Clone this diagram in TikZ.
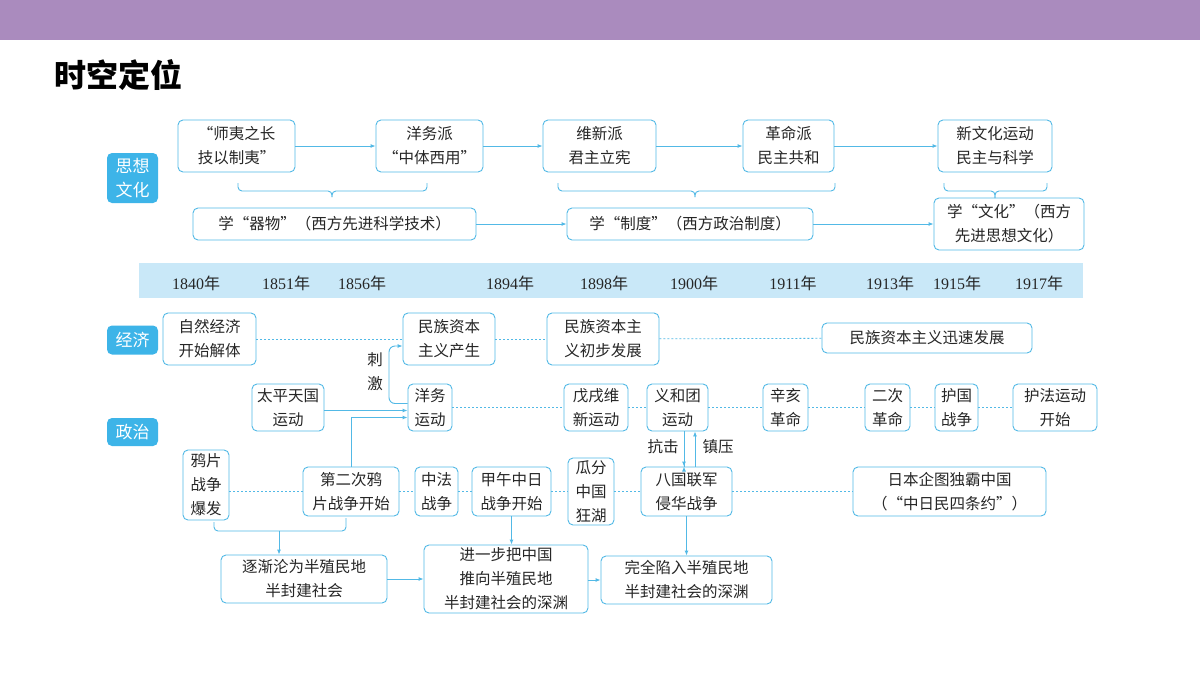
\documentclass[tikz,border=0pt]{standalone}
\usepackage{fontspec}
\setmainfont{Noto Sans CJK SC}
\newfontfamily\serifnum{Liberation Serif}
\usetikzlibrary{arrows.meta}
\definecolor{bord}{HTML}{52B9E6}
\definecolor{lab}{HTML}{3DB4E8}
\definecolor{band}{HTML}{C9E8F8}
\definecolor{hdr}{HTML}{AA8BBE}
\newcommand\yr[1]{{\serifnum #1}年}
\begin{document}
\begin{tikzpicture}[x=1pt,y=-1pt,
  box/.style={draw=bord,line width=0.9pt,rounded corners=5pt,inner sep=0pt,align=center,
    font=\fontsize{15.5}{24}\selectfont,text=black!85},
  tag/.style={fill=lab,rounded corners=5pt,text=white,align=center,inner sep=0pt,
    font=\fontsize{17}{24}\selectfont,minimum width=51pt},
  arr/.style={draw=bord,line width=0.9pt,-{Latex[length=5pt,width=4pt]}},
  dot/.style={draw=bord,line width=0.8pt,dash pattern=on 2pt off 2pt},
  ln/.style={draw=bord,line width=0.9pt},
  brc/.style={draw=bord,line width=0.9pt,rounded corners=4pt},
  yl/.style={font=\fontsize{16}{20}\selectfont,text=black!85,inner sep=0pt},
  sl/.style={font=\fontsize{15.5}{24}\selectfont,text=black!85,inner sep=0pt,align=center}]
\useasboundingbox (0,0) rectangle (1200,675);
\fill[white] (0,0) rectangle (1200,675);
\fill[hdr] (0,0) rectangle (1200,40);
\node[anchor=west,font=\fontsize{32}{36}\selectfont\bfseries,inner sep=0pt] (title) at (54,75) {时空定位};
% labels
\node[tag,minimum height=50pt] (t1) at (132.5,178) {思想\\文化};
\node[tag,minimum height=29pt] (t2) at (132.5,340) {经济};
\node[tag,minimum height=28pt] (t3) at (132.5,432) {政治};
% thought row
\node[box,minimum width=117pt,minimum height=52pt] (a1) at (236.5,146) {“师夷之长\\技以制夷”};
\node[box,minimum width=107pt,minimum height=52pt] (a2) at (429.5,146) {洋务派\\“中体西用”};
\node[box,minimum width=113pt,minimum height=52pt] (a3) at (599.5,146) {维新派\\君主立宪};
\node[box,minimum width=91pt,minimum height=52pt] (a4) at (788.5,146) {革命派\\民主共和};
\node[box,minimum width=114pt,minimum height=52pt] (a5) at (995,146) {新文化运动\\民主与科学};
\draw[arr] (a1) -- (a2); \draw[arr] (a2) -- (a3); \draw[arr] (a3) -- (a4); \draw[arr] (a4) -- (a5);
\node[box,minimum width=283pt,minimum height=32pt] (b1) at (334.5,224) {学“器物”（西方先进科学技术）};
\node[box,minimum width=246pt,minimum height=32pt] (b2) at (690,224) {学“制度”（西方政治制度）};
\node[box,minimum width=150pt,minimum height=52pt] (b3) at (1009,224) {学“文化”（西方\\先进思想文化）};
\draw[arr] (b1) -- (b2); \draw[arr] (b2) -- (b3);
% braces
\draw[brc] (238,183) |- (332,191) -- (332,197); \draw[brc] (427,183) |- (332,191) -- (332,197);
\draw[brc] (558,183) |- (695,191) -- (695,197); \draw[brc] (835,183) |- (695,191) -- (695,197);
\draw[brc] (944,183) |- (995,191) -- (995,198); \draw[brc] (1047,183) |- (995,191) -- (995,198);
% timeline
\fill[band] (139,263) rectangle (1083,298);
\foreach \x/\y in {196/1840,286/1851,362/1856,510/1894,604/1898,694/1900,793/1911,890/1913,957/1915,1039/1917}
  \node[yl] (y\y) at (\x,283) {\yr{\y}};
% economy
\node[box,minimum width=93pt,minimum height=52pt] (e1) at (209.5,339) {自然经济\\开始解体};
\node[box,minimum width=92pt,minimum height=52pt] (e2) at (449,339) {民族资本\\主义产生};
\node[box,minimum width=112pt,minimum height=52pt] (e3) at (603,339) {民族资本主\\义初步发展};
\node[box,minimum width=210pt,minimum height=30pt] (e4) at (927,338) {民族资本主义迅速发展};
\draw[dot] (e1) -- (e2); \draw[dot] (e2) -- (e3); \draw[dot] (e3) -- (e4);
% politics row 1
\node[box,minimum width=72pt,minimum height=47pt] (p1) at (288,407.5) {太平天国\\运动};
\node[box,minimum width=44pt,minimum height=47pt] (p2) at (430,407.5) {洋务\\运动};
\node[box,minimum width=64pt,minimum height=47pt] (p3) at (596,407.5) {戊戌维\\新运动};
\node[box,minimum width=61pt,minimum height=47pt] (p4) at (677.5,407.5) {义和团\\运动};
\node[box,minimum width=45pt,minimum height=47pt] (p5) at (785.5,407.5) {辛亥\\革命};
\node[box,minimum width=45pt,minimum height=47pt] (p6) at (887.5,407.5) {二次\\革命};
\node[box,minimum width=43pt,minimum height=47pt] (p7) at (956.5,407.5) {护国\\战争};
\node[box,minimum width=84pt,minimum height=47pt] (p8) at (1055,407.5) {护法运动\\开始};
\draw[dot] (p2) -- (p3); \draw[dot] (p3) -- (p4); \draw[dot] (p4) -- (p5);
\draw[dot] (p5) -- (p6); \draw[dot] (p6) -- (p7); \draw[dot] (p7) -- (p8);
\draw[arr] ([yshift=-3pt]p1.east) -- ([yshift=-3pt]p2.west);
\draw[arr,rounded corners=6pt] ([yshift=4pt]p2.west) -| (389,346) -- (e2.west |- 0,346);
\node[sl] (cj) at (375,372) {刺\\激};
% politics row 2
\node[box,minimum width=46pt,minimum height=70pt] (q1) at (206,485) {鸦片\\战争\\爆发};
\node[box,minimum width=96pt,minimum height=49pt] (q2) at (351,491.5) {第二次鸦\\片战争开始};
\node[box,minimum width=43pt,minimum height=49pt] (q3) at (436.5,491.5) {中法\\战争};
\node[box,minimum width=79pt,minimum height=49pt] (q4) at (511.5,491.5) {甲午中日\\战争开始};
\node[box,minimum width=46pt,minimum height=67pt] (q5) at (591,491.5) {瓜分\\中国\\狂湖};
\node[box,minimum width=91pt,minimum height=49pt] (q6) at (686.5,491.5) {八国联军\\侵华战争};
\node[box,minimum width=193pt,minimum height=49pt] (q7) at (949.5,491.5) {日本企图独霸中国\\（“中日民四条约”）};
\draw[dot] (q1.east |- q2) -- (q2); \draw[dot] (q2) -- (q3); \draw[dot] (q3) -- (q4);
\draw[dot] (q4) -- (q5); \draw[dot] (q5) -- (q6); \draw[dot] (q6) -- (q7);
\draw[arr] (q2.north) |- ([yshift=-10pt]p2.west);
\draw[arr] (q6.north -| 684,0) -- (q6.north -| 684,0) ;
\draw[arr] (p4.south -| 684,0) -- (q6.north -| 684,0);
\draw[arr] (q6.north -| 695,0) -- (p4.south -| 695,0);
\node[sl] (kj) at (663,447) {抗击};
\node[sl] (zy) at (718,447) {镇压};
% bottom
\node[box,minimum width=166pt,minimum height=48pt] (r1) at (304,579) {逐渐沦为半殖民地\\半封建社会};
\node[box,minimum width=164pt,minimum height=68pt] (r2) at (506,579) {进一步把中国\\推向半殖民地\\半封建社会的深渊};
\node[box,minimum width=171pt,minimum height=48pt] (r3) at (686.5,580) {完全陷入半殖民地\\半封建社会的深渊};
\draw[brc] (214,522) |- (279,531); \draw[brc] (346,518) |- (279,531);
\coordinate (bt) at (279,531);
\draw[arr] (bt) -- (bt |- r1.north);
\draw[arr] (q4.south) -- (q4.south |- r2.north);
\draw[arr] (q6.south) -- (q6.south |- r3.north);
\draw[arr] (r1) -- (r2); \draw[arr] (r2.east |- r3) -- (r3);
\end{tikzpicture}
\end{document}
